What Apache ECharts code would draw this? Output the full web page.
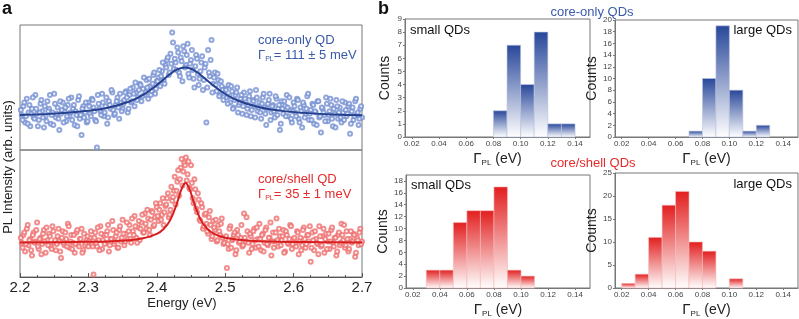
<!DOCTYPE html>
<html><head><meta charset="utf-8">
<script src="https://cdn.jsdelivr.net/npm/echarts@6/dist/echarts.min.js"></script>
<style>html,body{margin:0;padding:0;background:#fff}#c{width:799px;height:319px}</style>
</head><body><div id="c"></div>
<script>
// ---- Panel a: PL spectra (intensity in hundredths of panel units) ----
const energyStart = 2.2025, energyStep = 0.0025, energyStart2 = 2.20125;
const coreOnlyPL = [
28,35,22,41,30,19,33,26,44,29, 24,37,31,18,27,39,33,21,30,45,
26,34,16,29,38,31,23,36,27,42, 33,20,28,40,25,12,35,30,22,38,
29,41,34,24,2,37,31,45,27,35, 21,39,33,46,28,36,42,25,38,33,
40,47,30,44,38,50,35,46,42,53, 39,49,44,56,41,51,47,60,45,55,
58,51,63,56,68,72,60,77,94,65, 70,82,62,74,55,79,68,85,58,72,
64,50,76,61,57,70,48,66,22,80, 59,88,53,62,47,56,44,51,40,49,
42,52,38,47,34,44,50,36,41,29, 46,39,33,43,27,40,35,48,31,38,
25,42,34,20,37,45,30,36,26,41, 33,16,39,29,35,44,27,32,22,38,
30,41,25,34,18,36,29,43,24,32, 37,21,30,39,26,14,33,28,42,23,
31,36,19,29,40,25,34,22,30,38, 27,35,13,31,24,39,28,20,33,26];
const coreOnlyPL2 = [
32,24,38,27,21,36,29,42,25,33, 19,30,40,26,35,23,31,44,28,20,
37,29,25,39,32,22,34,27,41,30, 24,36,31,19,43,28,33,26,38,23,
35,27,40,31,23,44,33,28,38,30, 42,26,36,48,32,29,39,34,45,31,
37,46,42,33,49,39,45,54,40,48, 52,43,58,46,50,57,44,53,62,49,
55,64,59,70,53,66,74,62,69,86, 73,64,78,59,71,83,66,76,61,69,
80,57,67,73,52,63,75,56,69,50, 62,72,46,58,52,61,43,55,48,45,
48,37,43,51,33,40,46,30,38,44, 35,41,28,36,47,32,39,26,42,34,
30,37,45,29,33,40,24,35,31,43, 28,36,21,33,39,27,34,42,25,31,
35,27,40,22,31,38,26,33,45,29, 24,36,31,20,39,27,34,30,23,37,
28,41,25,33,18,35,30,26,39,24, 32,29,37,21,34,27,41,30,25,35];
const coreShellPL = [
27,33,20,38,25,30,17,35,28,43, 22,31,26,37,19,29,34,24,40,27,
21,32,28,15,36,25,30,42,23,33, 27,19,35,26,30,38,21,25,29,24,
31,26,2,35,24,29,40,22,33,27, 36,20,30,44,26,32,23,37,28,45,
25,34,30,41,27,36,48,31,39,29, 43,35,50,38,46,33,52,40,47,55,
44,58,49,41,56,62,47,53,60,68, 57,75,64,86,72,90,94,81,70,88,
62,77,54,66,45,58,38,49,42,34, 52,30,44,37,28,41,33,46,26,30,
7,22,40,29,33,18,37,27,31,24, 50,28,36,19,32,26,38,23,30,42,
21,34,27,39,25,31,17,35,28,46, 24,32,29,37,20,33,26,41,22,30,
27,36,18,31,25,39,23,33,28,12, 35,21,30,26,40,24,32,19,34,28,
22,37,27,31,17,33,25,42,29,23, 36,20,30,27,34,16,31,25,38,28];
const coreShellPL2 = [
31,23,35,26,41,29,21,33,27,37, 24,30,18,34,28,39,25,32,22,36,
29,26,38,20,31,27,35,24,40,28, 22,33,26,37,24,30,19,34,27,32,
28,36,24,31,27,39,21,34,29,26, 33,41,25,30,37,28,35,23,40,31,
34,28,43,36,30,46,33,40,27,44, 38,49,35,42,53,37,45,51,41,58,
48,53,45,62,51,57,66,49,71,63, 79,68,84,77,93,83,88,76,91,69,
74,58,69,51,61,44,55,40,50,36, 47,41,32,39,45,29,36,42,31,27,
32,26,38,23,30,35,21,33,28,41, 25,31,47,27,34,22,36,29,39,24,
30,33,20,37,26,31,43,28,23,35, 29,38,25,32,19,36,27,30,40,26,
31,24,35,28,21,37,30,26,33,40, 23,29,36,27,18,32,25,38,30,22,
34,28,39,24,31,20,35,27,33,41, 25,30,22,36,28,33,19,29,35,26];
const coreOnlyFitE = [2.20,2.25,2.30,2.33,2.36,2.38,2.40,2.42,2.43,2.441,2.45,2.46,2.48,2.50,2.52,2.55,2.58,2.62,2.66,2.70];
const coreOnlyFit  = [0.280,0.291,0.314,0.340,0.388,0.441,0.519,0.610,0.645,0.660,0.650,0.618,0.528,0.448,0.392,0.342,0.315,0.295,0.284,0.278];
const coreShellFitE = [2.20,2.30,2.35,2.38,2.40,2.41,2.42,2.43,2.436,2.442,2.448,2.454,2.464,2.474,2.484,2.50,2.53,2.58,2.64,2.70];
const coreShellFit  = [0.272,0.277,0.286,0.305,0.340,0.378,0.452,0.590,0.690,0.740,0.690,0.590,0.452,0.378,0.340,0.309,0.288,0.278,0.274,0.272];

// ---- Panel b: histograms of linewidth ----
const binWidth = 0.01;
const smallCoreBins = [0.08,0.09,0.10,0.11,0.12,0.13];
const smallCoreCounts = [2,7,4,8,1,1];
const largeCoreBins = [0.07,0.08,0.09,0.10,0.11,0.12];
const largeCoreCounts = [1,10,19,8,1,2];
const smallShellBins = [0.03,0.04,0.05,0.06,0.07,0.08,0.09,0.10];
const smallShellCounts = [3,3,11,13,13,17,3,2];
const largeShellBins = [0.02,0.03,0.04,0.05,0.06,0.07,0.08,0.10];
const largeShellCounts = [1,3,11,18,21,10,8,2];
const gammaTicks = [0.02,0.04,0.06,0.08,0.10,0.12,0.14];

const BLUE='#3a5aab', BLUE_PT='#7590d2', BLUE_LINE='#25418e';
const RED='#e52a2a', RED_PT='#ef7070', RED_LINE='#d81e1e';
const FONT='"Liberation Sans", Arial, sans-serif';

function pts(arr, start){ return arr.map((v,i)=>[start+i*energyStep, v/100]); }
function fit(e,v){ return e.map((x,i)=>[x,v[i]]); }
function hist(bins,counts){ return bins.map((b,i)=>[b,b+binWidth,counts[i]]); }

function histSeries(idx, bins, counts, top, stroke){
  return {type:'custom', xAxisIndex:idx, yAxisIndex:idx, data:hist(bins,counts),
    renderItem:function(params, api){
      const p0 = api.coord([api.value(0),0]);
      const p1 = api.coord([api.value(1),api.value(2)]);
      return {type:'rect', shape:{x:p0[0], y:p1[1], width:p1[0]-p0[0], height:p0[1]-p1[1]},
        style:{fill:new echarts.graphic.LinearGradient(0,0,0,1,[{offset:0,color:top},{offset:1,color:'#ffffff'}]),
               stroke:stroke, lineWidth:0.6}};
    }};
}

const gridBase = {show:true, borderColor:'#777', borderWidth:1, containLabel:false};
const grids = [
  Object.assign({left:20, top:25, width:342, height:125}, gridBase),
  Object.assign({left:20, top:150, width:342, height:127}, gridBase),
  Object.assign({left:405, top:19, width:185, height:118}, gridBase),
  Object.assign({left:615, top:20, width:183, height:117}, gridBase),
  Object.assign({left:406, top:175, width:184, height:117}, gridBase),
  Object.assign({left:615, top:173, width:183, height:119}, gridBase)
];

const gammaName = {name:'{g|Γ}{s|PL}{e| (eV)}', nameLocation:'middle', nameGap:14,
  nameTextStyle:{rich:{g:{fontSize:15,color:'#222',fontFamily:FONT}, e:{fontSize:14,color:'#222',fontFamily:FONT}, s:{fontSize:8,color:'#222',fontFamily:FONT,verticalAlign:'bottom',padding:[8,0,0,0]}}}};

function histX(idx){
  return Object.assign({type:'value', gridIndex:idx, min:0.015, max:0.151,
    axisLine:{lineStyle:{color:'#777'}},
    axisTick:{show:true, customValues:gammaTicks, length:2, lineStyle:{color:'#777'}},
    axisLabel:{customValues:gammaTicks, fontSize:8, color:'#444', margin:3, fontFamily:FONT, formatter:v=>v.toFixed(2)},
    splitLine:{show:false}}, gammaName);
}
function histY(idx, max, vals){
  return {type:'value', gridIndex:idx, min:0, max:max,
    name:'Counts', nameLocation:'middle', nameGap:13,
    nameTextStyle:{fontSize:14, color:'#222', fontFamily:FONT},
    axisLine:{show:true, lineStyle:{color:'#777'}},
    axisTick:{show:true, customValues:vals, length:2, lineStyle:{color:'#777'}},
    axisLabel:{customValues:vals, fontSize:8, color:'#444', margin:3, fontFamily:FONT},
    splitLine:{show:false}};
}

function scatter(idx, arr, start, col){
  return {type:'scatter', xAxisIndex:idx, yAxisIndex:idx, data:pts(arr,start), symbol:'emptyCircle', symbolSize:4,
     itemStyle:{color:col, borderColor:col, borderWidth:0.7}, z:2};
}

const option = {
  animation:false,
  textStyle:{fontFamily:FONT},
  grid: grids,
  xAxis: [
    {type:'value', gridIndex:0, min:2.2, max:2.7, interval:0.1,
     axisLine:{show:false}, axisTick:{show:false}, axisLabel:{show:false}, splitLine:{show:false}},
    {type:'value', gridIndex:1, min:2.2, max:2.7, interval:0.1,
     axisLine:{lineStyle:{color:'#555'}},
     axisTick:{inside:true, length:4, lineStyle:{color:'#555'}},
     minorTick:{show:true, splitNumber:4, length:2, lineStyle:{color:'#555'}},
     axisLabel:{fontSize:15, color:'#222', margin:3, fontFamily:FONT, formatter:v=>v.toFixed(1)},
     splitLine:{show:false}},
    histX(2), histX(3), histX(4), histX(5)
  ],
  yAxis: [
    {type:'value', gridIndex:0, min:0, max:1, show:false},
    {type:'value', gridIndex:1, min:0, max:1, show:false},
    histY(2, 9, [0,1,2,3,4,5,6,7,8,9]),
    histY(3, 20, [0,2,4,6,8,10,12,14,16,18,20]),
    histY(4, 19, [0,2,4,6,8,10,12,14,16,18]),
    histY(5, 25, [0,5,10,15,20,25])
  ],
  series: [
    scatter(0, coreOnlyPL, energyStart, BLUE_PT),
    scatter(0, coreOnlyPL2, energyStart2, BLUE_PT),
    {type:'line', xAxisIndex:0, yAxisIndex:0, data:fit(coreOnlyFitE, coreOnlyFit), smooth:0.4, symbol:'none',
     lineStyle:{color:BLUE_LINE, width:2}, z:3},
    scatter(1, coreShellPL, energyStart, RED_PT),
    scatter(1, coreShellPL2, energyStart2, RED_PT),
    {type:'line', xAxisIndex:1, yAxisIndex:1, data:fit(coreShellFitE, coreShellFit), smooth:0.4, symbol:'none',
     lineStyle:{color:RED_LINE, width:2}, z:3},
    histSeries(2, smallCoreBins, smallCoreCounts, '#28479a', '#b8c2de'),
    histSeries(3, largeCoreBins, largeCoreCounts, '#28479a', '#b8c2de'),
    histSeries(4, smallShellBins, smallShellCounts, '#e21e1e', '#f3b8b8'),
    histSeries(5, largeShellBins, largeShellCounts, '#e21e1e', '#f3b8b8')
  ],
  graphic: [
    {type:'text', left:2, top:0, style:{text:'a', font:'bold 18px '+FONT, fill:'#111'}},
    {type:'text', left:378, top:0, style:{text:'b', font:'bold 18px '+FONT, fill:'#111'}},
    {type:'text', x:8, y:167, rotation:Math.PI/2, style:{text:'PL Intensity (arb. units)', font:'13px '+FONT, fill:'#222', align:'center', verticalAlign:'middle'}},
    {type:'text', x:182, y:303, style:{text:'Energy (eV)', font:'13px '+FONT, fill:'#222', align:'center', verticalAlign:'middle'}},
    {type:'text', x:258, y:40, style:{text:'core-only QD', font:'13px '+FONT, fill:BLUE, verticalAlign:'middle'}},
    {type:'text', x:258, y:55, style:{text:'{g|Γ}{s|PL}{g|= 111 ± 5 meV}', verticalAlign:'middle',
      rich:{g:{font:'13px '+FONT, fill:BLUE}, s:{font:'7px '+FONT, fill:BLUE, padding:[8,0,0,0]}}}},
    {type:'text', x:258, y:179, style:{text:'core/shell QD', font:'13px '+FONT, fill:RED, verticalAlign:'middle'}},
    {type:'text', x:258, y:194, style:{text:'{g|Γ}{s|PL}{g|= 35 ± 1 meV}', verticalAlign:'middle',
      rich:{g:{font:'13px '+FONT, fill:RED}, s:{font:'7px '+FONT, fill:RED, padding:[8,0,0,0]}}}},
    {type:'text', x:592, y:12, style:{text:'core-only QDs', font:'13px '+FONT, fill:BLUE, align:'center', verticalAlign:'middle'}},
    {type:'text', x:593, y:163, style:{text:'core/shell QDs', font:'13px '+FONT, fill:RED, align:'center', verticalAlign:'middle'}},
    {type:'text', x:410, y:30, style:{text:'small QDs', font:'13px '+FONT, fill:'#111', verticalAlign:'middle'}},
    {type:'text', x:792, y:30, style:{text:'large QDs', font:'13px '+FONT, fill:'#111', align:'right', verticalAlign:'middle'}},
    {type:'text', x:411, y:185, style:{text:'small QDs', font:'13px '+FONT, fill:'#111', verticalAlign:'middle'}},
    {type:'text', x:792, y:184, style:{text:'large QDs', font:'13px '+FONT, fill:'#111', align:'right', verticalAlign:'middle'}}
  ]
};
const chart = echarts.init(document.getElementById('c'), null, {renderer:'canvas'});
chart.setOption(option);
</script></body></html>
